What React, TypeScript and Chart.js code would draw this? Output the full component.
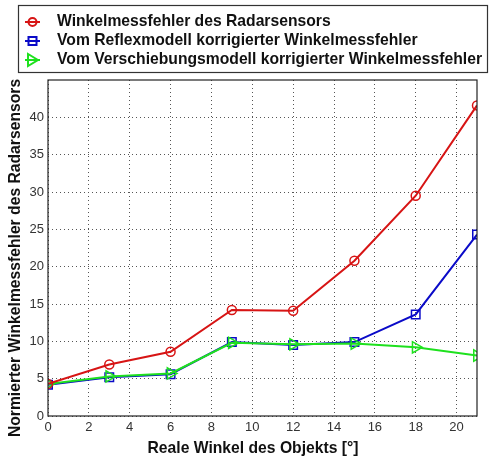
import React, { useEffect, useRef } from "react";
import { Chart, registerables } from "chart.js";

Chart.register(...registerables);

const angles = [0, 3, 6, 9, 12, 15, 18, 21];
const radarError = [4.3, 6.9, 8.6, 14.2, 14.1, 20.8, 29.5, 41.6];
const reflexCorrected = [4.2, 5.2, 5.6, 9.9, 9.5, 9.9, 13.6, 24.3];
const shiftCorrected = [4.3, 5.3, 5.7, 9.8, 9.6, 9.7, 9.2, 8.1];
const xTicks = [0, 2, 4, 6, 8, 10, 12, 14, 16, 18, 20];
const yTicks = [0, 5, 10, 15, 20, 25, 30, 35, 40];
const seriesNames = [
  "Winkelmessfehler des Radarsensors",
  "Vom Reflexmodell korrigierter Winkelmessfehler",
  "Vom Verschiebungsmodell korrigierter Winkelmessfehler",
];
const xTitle = "Reale Winkel des Objekts [°]";
const yTitle = "Normierter Winkelmessfehler des Radarsensors";

const RED = "rgb(215,20,20)";
const BLUE = "rgb(10,10,200)";
const GREEN = "rgb(30,225,30)";

const FONT = "'Liberation Sans', Arial, sans-serif";

const legendPlugin = {
  id: "customLegend",
  afterDraw(chart: any) {
    const ctx = chart.ctx;
    ctx.save();
    ctx.fillStyle = "#fff";
    ctx.fillRect(18.5, 5.5, 469, 67);
    ctx.strokeStyle = "#333";
    ctx.lineWidth = 1.2;
    ctx.strokeRect(18.5, 5.5, 469, 67);
    const rows = [22, 41, 60];
    const colors = [RED, BLUE, GREEN];
    for (let i = 0; i < 3; i++) {
      const y = rows[i];
      ctx.strokeStyle = colors[i];
      ctx.lineWidth = 2;
      ctx.beginPath();
      ctx.moveTo(25, y);
      ctx.lineTo(40, y);
      ctx.stroke();
      ctx.beginPath();
      if (i === 0) {
        ctx.arc(32.5, y, 4, 0, Math.PI * 2);
      } else if (i === 1) {
        ctx.rect(28.5, y - 4, 8, 8);
      } else {
        ctx.moveTo(38, y);
        ctx.lineTo(28, y - 6);
        ctx.lineTo(28, y + 6);
        ctx.closePath();
      }
      ctx.stroke();
      ctx.fillStyle = "#111";
      ctx.font = `bold 15.7px ${FONT}`;
      ctx.textBaseline = "middle";
      ctx.textAlign = "left";
      ctx.fillText(seriesNames[i], 57, y);
    }
    // axis titles
    ctx.fillStyle = "#111";
    ctx.font = `bold 15.7px ${FONT}`;
    ctx.textAlign = "center";
    ctx.textBaseline = "middle";
    ctx.fillText(xTitle, 253, 449);
    ctx.translate(16, 258);
    ctx.rotate(-Math.PI / 2);
    ctx.fillText(yTitle, 0, 0);
    ctx.restore();
  },
};

const framePlugin = {
  id: "frame",
  afterDatasetsDraw(chart: any) {
    const { ctx, chartArea } = chart;
    ctx.save();
    ctx.strokeStyle = "#222";
    ctx.lineWidth = 1.2;
    ctx.strokeRect(chartArea.left, chartArea.top, chartArea.right - chartArea.left, chartArea.bottom - chartArea.top);
    ctx.restore();
  },
};

export default function App() {
  const ref = useRef<HTMLCanvasElement>(null);
  useEffect(() => {
    const canvas = ref.current!;
    const mk = (data: number[]) => data.map((v, i) => ({ x: angles[i], y: v }));
    const chart = new Chart(canvas, {
      type: "line",
      data: {
        datasets: [
          {
            label: seriesNames[0],
            data: mk(radarError),
            borderColor: RED,
            backgroundColor: "transparent",
            borderWidth: 2,
            pointStyle: "circle",
            pointRadius: 4.5,
            pointBorderWidth: 1.5,
            pointBorderColor: RED,
            pointBackgroundColor: "transparent",
            order: 0,
          },
          {
            label: seriesNames[1],
            data: mk(reflexCorrected),
            borderColor: BLUE,
            backgroundColor: "transparent",
            borderWidth: 2,
            pointStyle: "rect",
            pointRadius: 6,
            pointBorderWidth: 1.5,
            pointBorderColor: BLUE,
            pointBackgroundColor: "transparent",
            order: 2,
          },
          {
            label: seriesNames[2],
            data: mk(shiftCorrected),
            borderColor: GREEN,
            backgroundColor: "transparent",
            borderWidth: 2,
            pointStyle: "triangle",
            pointRotation: 90,
            pointRadius: 6.5,
            pointBorderWidth: 1.5,
            pointBorderColor: GREEN,
            pointBackgroundColor: "transparent",
            order: 1,
          },
        ],
      },
      options: {
        animation: false,
        responsive: false,
        maintainAspectRatio: false,
        layout: { padding: { top: 80, right: 12, left: 0, bottom: 0 } },
        plugins: { legend: { display: false }, tooltip: { enabled: false } },
        scales: {
          x: {
            type: "linear",
            min: 0,
            max: 21,
            afterBuildTicks: (s: any) => {
              s.ticks = xTicks.map((v) => ({ value: v }));
            },
            afterFit: (s: any) => {
              s.height = 42;
            },
            grid: {
              color: "#555",
              drawTicks: false,
            },
            border: { display: false, dash: [1, 3] } as any,
            ticks: {
              color: "#333",
              font: { family: FONT, size: 13 },
              padding: 4,
              maxRotation: 0,
            },
          },
          y: {
            type: "linear",
            min: 0,
            max: 45,
            afterBuildTicks: (s: any) => {
              s.ticks = yTicks.map((v) => ({ value: v }));
            },
            afterFit: (s: any) => {
              s.width = 48;
            },
            grid: {
              color: "#555",
              drawTicks: false,
            },
            border: { display: false, dash: [1, 3] } as any,
            ticks: {
              color: "#333",
              font: { family: FONT, size: 13 },
              padding: 4,
            },
          },
        },
      },
      plugins: [framePlugin, legendPlugin],
    } as any);
    return () => chart.destroy();
  }, []);
  return (
    <div style={{ position: "fixed", left: 0, top: 0, width: 489, height: 458, background: "#fff" }}>
      <canvas ref={ref} width={489} height={458} style={{ width: 489, height: 458 }} />
    </div>
  );
}
